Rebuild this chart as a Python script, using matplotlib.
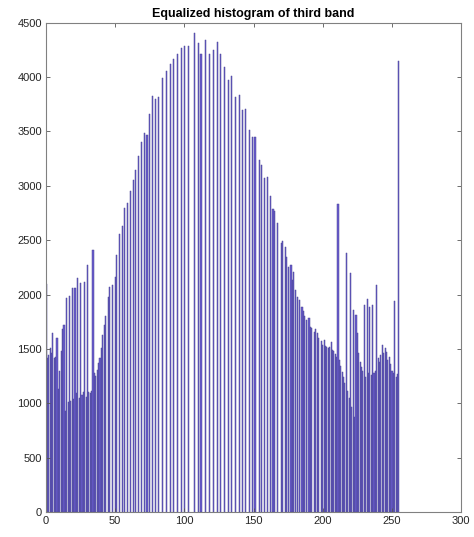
import numpy as np
import matplotlib
matplotlib.use("Agg")
import matplotlib.pyplot as plt

plt.rcParams['font.family'] = ['Liberation Sans', 'DejaVu Sans']

# dark end: nearly every grey level occupied
low_levels = list(range(0, 44)) + [45, 46, 48, 50]
low_counts = [2100, 1420, 1440, 1510, 1460, 1650, 1420, 1430, 1600, 1130,
              1300, 1480, 1680, 1720, 930, 1970, 1010, 1990, 1020, 2060,
              1040, 2060, 1090, 2150, 1050, 2110, 1080, 1100, 2120, 1060,
              2270, 1100, 1090, 1110, 2410, 1280, 1250, 1310, 1370, 1420,
              1510, 1630, 1720, 1800, 1980, 2070, 2090, 2160]

# middle: levels spread apart by the equalization
mid_levels = [51, 53, 55, 57, 59, 61, 63, 65, 67, 69, 71, 73, 75, 77, 79, 81,
              84, 87, 90, 92, 95, 98, 100, 103, 107, 110, 112, 115, 118, 121,
              124, 126, 129, 132, 134, 137, 140, 142, 144, 147, 149, 151, 154,
              156, 158, 160, 162, 164, 165, 167, 170, 171, 173, 174, 175, 177,
              178, 179, 180, 182, 183, 185, 186, 187, 188, 190, 191, 192, 194,
              195, 196, 197, 199]
mid_counts = [2360, 2560, 2630, 2800, 2840, 2950, 3050, 3150, 3270, 3400, 3490,
              3470, 3660, 3830, 3800, 3820, 3990, 4060, 4125, 4170, 4215, 4265,
              4290, 4290, 4410, 4315, 4210, 4340, 4210, 4245, 4325, 4215, 4095,
              3975, 4010, 3820, 3835, 3700, 3705, 3510, 3450, 3450, 3240, 3190,
              3075, 3080, 2905, 2790, 2770, 2660, 2475, 2495, 2440, 2350, 2255,
              2270, 2135, 2210, 2040, 1980, 1950, 1890, 1845, 1800, 1765, 1785,
              1700, 1690, 1660, 1680, 1645, 1600, 1575]

# bright end: every level from 200 to 255
high_levels = list(range(200, 256))
high_counts = [1540, 1580, 1530, 1520, 1510, 1520, 1560, 1490, 1480, 1450,
               1430, 2830, 1400, 1340, 1290, 1240, 1190, 2380, 1110, 1050,
               2200, 970, 1860, 875, 1810, 1650, 1460, 1380, 1330, 1300,
               1900, 1240, 1960, 1280, 1890, 1260, 1900, 1280, 1300, 2090,
               1420, 1380, 1440, 1540, 1460, 1510, 1470, 1400, 1430, 1360,
               1300, 1280, 1940, 1240, 1270, 4150]

levels = low_levels + mid_levels + high_levels
counts = low_counts + mid_counts + high_counts

fig = plt.figure(figsize=(4.74, 5.37), dpi=100)
ax = fig.add_axes([0.097, 0.0466, 0.876, 0.911])

ax.bar(levels, counts, width=0.8, color='#6a5bd0', edgecolor='#4b4894', linewidth=0.35)

ax.set_xlim(0, 300)
ax.set_ylim(0, 4500)
ax.set_xticks(np.arange(0, 301, 50))
ax.set_yticks(np.arange(0, 4501, 500))
ax.tick_params(direction='in', top=True, right=True, length=3, width=0.6,
               color='#555555', labelsize=8, labelcolor='#262626', pad=3)
for s in ax.spines.values():
    s.set_color('#808080')
    s.set_linewidth(0.8)

ax.set_title('Equalized histogram of third band', fontsize=9, fontweight='bold', pad=4)

plt.savefig('out.png', dpi=100)
